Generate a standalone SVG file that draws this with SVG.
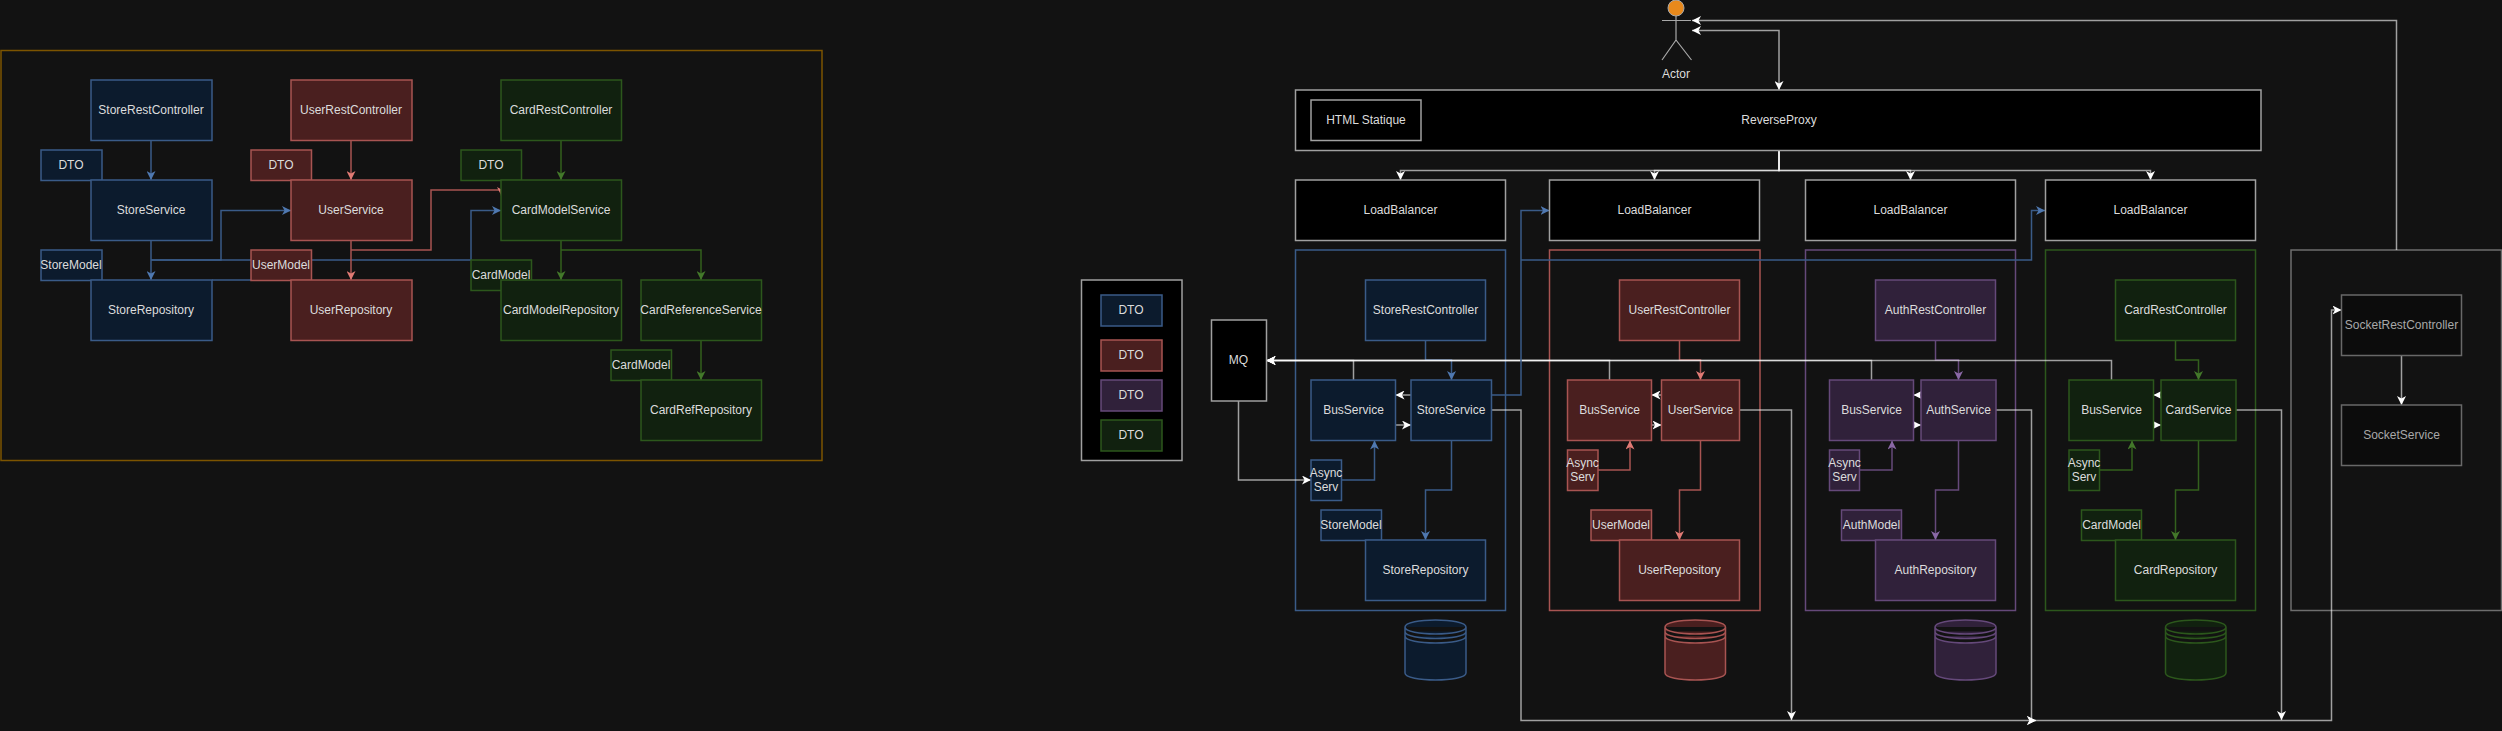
<svg xmlns="http://www.w3.org/2000/svg" width="2502" height="731" viewBox="0 0 2502 731">
<style>
text{font-family:"Liberation Sans",Arial,Helvetica,sans-serif;font-size:12px;fill:#dcdcdc;text-anchor:middle;dominant-baseline:central}
rect{stroke-width:1.5}
.b{fill:#0c1b2d;stroke:#3a5b88}
.r{fill:#4a1f1f;stroke:#a85452}
.g{fill:#11210f;stroke:#2c571c}
.p{fill:#30213a;stroke:#65497a}
.k{fill:#000;stroke:#a0a0a0}
.s{fill:#0c0c0c;stroke:#686868}
.gb{fill:none;stroke:#3a5b88}.gr{fill:none;stroke:#a85452}.gg{fill:none;stroke:#2c571c}.gp{fill:none;stroke:#65497a}.gs{fill:none;stroke:#6e6e6e}
#connectors path{fill:none;stroke-width:1.5}
.cb{stroke:#3a5b88;marker-end:url(#ab)}.cr{stroke:#a85452;marker-end:url(#ar)}.cg{stroke:#33601d;marker-end:url(#ag)}.cp{stroke:#65497a;marker-end:url(#ap)}
.cbn{stroke:#3a5b88}
.cw{stroke:#fff;stroke-opacity:.6;marker-end:url(#aw)}
</style>
<defs>
<marker id="ab" markerUnits="userSpaceOnUse" markerWidth="9" markerHeight="9" refX="9" refY="4.5" orient="auto"><path d="M9,4.5 L0,0 L2.5,4.5 L0,9Z" fill="#4f78b0"/></marker>
<marker id="ar" markerUnits="userSpaceOnUse" markerWidth="9" markerHeight="9" refX="9" refY="4.5" orient="auto"><path d="M9,4.5 L0,0 L2.5,4.5 L0,9Z" fill="#e07a74"/></marker>
<marker id="ag" markerUnits="userSpaceOnUse" markerWidth="9" markerHeight="9" refX="9" refY="4.5" orient="auto"><path d="M9,4.5 L0,0 L2.5,4.5 L0,9Z" fill="#43782a"/></marker>
<marker id="ap" markerUnits="userSpaceOnUse" markerWidth="9" markerHeight="9" refX="9" refY="4.5" orient="auto"><path d="M9,4.5 L0,0 L2.5,4.5 L0,9Z" fill="#8a68a6"/></marker>
<marker id="aw" markerUnits="userSpaceOnUse" markerWidth="9" markerHeight="9" refX="9" refY="4.5" orient="auto"><path d="M9,4.5 L0,0 L2.5,4.5 L0,9Z" fill="#fff"/></marker>
<marker id="aws" markerUnits="userSpaceOnUse" markerWidth="9" markerHeight="9" refX="0" refY="4.5" orient="auto"><path d="M0,4.5 L9,0 L6.5,4.5 L9,9Z" fill="#fff"/></marker>
</defs>
<rect x="0" y="0" width="2502" height="731" fill="#121212" stroke="none"/>

<g id="frames">
<rect id="frame-left" x="1" y="50.5" width="821" height="410" fill="none" stroke="#7c5400" stroke-width="3"/>
<rect id="group-store" class="gb" x="1295.5" y="250" width="210" height="360.5"/>
<rect id="group-user" class="gr" x="1549.5" y="250" width="210.5" height="360.5"/>
<rect id="group-auth" class="gp" x="1805.5" y="250" width="210" height="360.5"/>
<rect id="group-card" class="gg" x="2045.5" y="250" width="210" height="360.5"/>
<rect id="group-socket" class="gs" x="2291" y="250" width="210.5" height="360.5"/>
</g>

<g id="connectors">
<path class="cb" d="M151,140.5V180"/><path class="cb" d="M151,240.5V280"/>
<path class="cb" d="M151,260H221V210.5H291"/><path class="cb" d="M151,260H471V210.5H501"/>
<path class="cbn" d="M212,280H251"/>
<path class="cr" d="M351,140.5V180"/><path class="cr" d="M351,240.5V280"/>
<path class="cr" d="M351,250H431V190H501.5V196"/>
<path class="cg" d="M561,140.5V180"/><path class="cg" d="M561,240.5V280"/>
<path class="cg" d="M561,250H701V280"/><path class="cg" d="M701,340.5V380"/>

<path class="cw" d="M1238.500,401V480H1311"/>
<path class="cb" d="M1425.500,340.500V360H1451.500V380"/>
<path class="cr" d="M1679.500,340.500V360H1700.500V380"/>
<path class="cp" d="M1935.500,340.500V360H1958.500V380"/>
<path class="cg" d="M2175.500,340.500V360H2198.500V380"/>
<path class="cw" d="M1353.500,380V360.500H1266.500"/>
<path class="cw" d="M1609.500,380V360.500H1266.500"/>
<path class="cw" d="M1871.500,380V360.500H1266.500"/>
<path class="cw" d="M2111.500,380V360.500H1266.500"/>

<path class="cw" d="M1411,395H1395.500"/><path class="cw" d="M1395.500,425H1411"/>
<path class="cw" d="M1661.500,395H1651.500"/><path class="cw" d="M1651.500,425H1661.500"/>
<path class="cw" d="M1921,395H1913.500"/><path class="cw" d="M1913.500,425H1921"/>
<path class="cw" d="M2161,395H2153.500"/><path class="cw" d="M2153.500,425H2161"/>

<path class="cb" d="M1341.500,480H1374.500V440.500"/>
<path class="cr" d="M1598,470H1630V440.500"/>
<path class="cp" d="M1859.500,470H1892V440.500"/>
<path class="cg" d="M2099.500,470H2132V440.500"/>
<path class="cb" d="M1451.500,440.500V490H1425.500V540"/>
<path class="cr" d="M1700.500,440.500V490H1679.500V540"/>
<path class="cp" d="M1958.500,440.500V490H1935.500V540"/>
<path class="cg" d="M2198.500,440.500V490H2175.500V540"/>

<path class="cb" d="M1491.500,395H1521V210.500H1549.500"/>
<path class="cb" d="M1521,260H2031.500V210.500H2045"/>

<path class="cw" d="M1491.500,410H1521V720.500H2036"/>
<path class="cw" d="M1739.500,410H1791.500V720"/>
<path class="cw" d="M1996,410H2031.500V720.500H2036"/>
<path class="cw" d="M2236,410H2281.500V720"/>
<path class="cw" d="M2036,720.500H2331.500V310H2341.500"/>

<path class="cw" d="M2401.500,355.500V405"/>
<path class="cw" d="M2396.500,250V20.500H1692"/>
<path class="cw" style="marker-start:url(#aws)" d="M1692,30.500H1779V90"/>
<path class="cw" d="M1779,150.500V170.500H1400.500V180"/>
<path class="cw" d="M1779,150.500V170.500H1654.500V180"/>
<path class="cw" d="M1779,150.500V170.500H1910.500V180"/>
<path class="cw" d="M1779,150.500V170.500H2150.500V180"/>
</g>

<g id="store-rest-l"><rect class="b" x="91" y="80" width="121" height="60.500"/><text x="151" y="110">StoreRestController</text></g>
<g id="store-dto-l"><rect class="b" x="41" y="150" width="61" height="30.500"/><text x="71" y="165">DTO</text></g>
<g id="store-service-l"><rect class="b" x="91" y="180" width="121" height="60.500"/><text x="151" y="210">StoreService</text></g>
<g id="store-model-l"><rect class="b" x="41" y="250" width="61" height="30.500"/><text x="71" y="265">StoreModel</text></g>
<g id="store-repo-l"><rect class="b" x="91" y="280" width="121" height="60.500"/><text x="151" y="310">StoreRepository</text></g>

<g id="user-rest-l"><rect class="r" x="291" y="80" width="121" height="60.500"/><text x="351" y="110">UserRestController</text></g>
<g id="user-dto-l"><rect class="r" x="251" y="150" width="60.500" height="30.500"/><text x="281" y="165">DTO</text></g>
<g id="user-service-l"><rect class="r" x="291" y="180" width="121" height="60.500"/><text x="351" y="210">UserService</text></g>
<g id="user-model-l"><rect class="r" x="251" y="250" width="60.500" height="30.500"/><text x="281" y="265">UserModel</text></g>
<g id="user-repo-l"><rect class="r" x="291" y="280" width="121" height="60.500"/><text x="351" y="310">UserRepository</text></g>

<g id="card-rest-l"><rect class="g" x="501" y="80" width="120.500" height="60.500"/><text x="561" y="110">CardRestController</text></g>
<g id="card-dto-l"><rect class="g" x="461" y="150" width="60.500" height="30.500"/><text x="491" y="165">DTO</text></g>
<g id="card-model-service-l"><rect class="g" x="501" y="180" width="120.500" height="60.500"/><text x="561" y="210">CardModelService</text></g>
<g id="card-model-l"><rect class="g" x="471" y="260" width="60.500" height="30.500"/><text x="501" y="275">CardModel</text></g>
<g id="card-model-repo-l"><rect class="g" x="501" y="280" width="120.500" height="60.500"/><text x="561" y="310">CardModelRepository</text></g>
<g id="card-ref-service-l"><rect class="g" x="641" y="280" width="120.500" height="60.500"/><text x="701" y="310">CardReferenceService</text></g>
<g id="card-model2-l"><rect class="g" x="611" y="350" width="60.500" height="30.500"/><text x="641" y="365">CardModel</text></g>
<g id="card-ref-repo-l"><rect class="g" x="641" y="380" width="120.500" height="60.500"/><text x="701" y="410">CardRefRepository</text></g>

<g id="legend"><rect class="k" x="1081.500" y="280" width="100.500" height="180.500"/>
<rect class="b" x="1101" y="295" width="61" height="31"/><text x="1131" y="310">DTO</text>
<rect class="r" x="1101" y="340" width="61" height="31"/><text x="1131" y="355">DTO</text>
<rect class="p" x="1101" y="380" width="61" height="31"/><text x="1131" y="395">DTO</text>
<rect class="g" x="1101" y="420" width="61" height="31"/><text x="1131" y="435">DTO</text></g>
<g id="mq"><rect class="k" x="1211.500" y="320" width="55" height="81"/><text x="1238.500" y="360">MQ</text></g>

<g id="actor"><circle cx="1676" cy="8" r="8" fill="#e8891c" stroke="#a8a8a8" stroke-width="1"/><path d="M1676,16V40M1662,20.500H1691M1676,40L1662,60M1676,40L1691.500,60" fill="none" stroke="#a8a8a8" stroke-width="1.2"/><text x="1676" y="74">Actor</text></g>
<g id="reverse-proxy"><rect class="k" x="1295.500" y="90" width="965.500" height="60.500"/><text x="1779" y="120">ReverseProxy</text></g>
<g id="html-statique"><rect class="k" x="1311" y="100" width="110" height="40.500"/><text x="1366" y="120">HTML Statique</text></g>
<g id="lb-store"><rect class="k" x="1295.500" y="180" width="210" height="60.500"/><text x="1400.500" y="210">LoadBalancer</text></g>
<g id="lb-user"><rect class="k" x="1549.500" y="180" width="210" height="60.500"/><text x="1654.500" y="210">LoadBalancer</text></g>
<g id="lb-auth"><rect class="k" x="1805.500" y="180" width="210" height="60.500"/><text x="1910.500" y="210">LoadBalancer</text></g>
<g id="lb-card"><rect class="k" x="2045.500" y="180" width="210" height="60.500"/><text x="2150.500" y="210">LoadBalancer</text></g>

<g id="store-rest"><rect class="b" x="1365.500" y="280" width="120" height="60.500"/><text x="1425.500" y="310">StoreRestController</text></g>
<g id="store-bus"><rect class="b" x="1311" y="380" width="84.500" height="60.500"/><text x="1353.500" y="410">BusService</text></g>
<g id="store-service"><rect class="b" x="1411" y="380" width="80.500" height="60.500"/><text x="1451" y="410">StoreService</text></g>
<g id="store-async"><rect class="b" x="1311" y="460" width="30.500" height="40.500"/><text x="1326" y="465"><tspan x="1326" y="465" dy="8">Async</tspan><tspan x="1326" dy="14">Serv</tspan></text></g>
<g id="store-model"><rect class="b" x="1321" y="510" width="60.500" height="30.500"/><text x="1351" y="525">StoreModel</text></g>
<g id="store-repo"><rect class="b" x="1365.500" y="540" width="120" height="60.500"/><text x="1425.500" y="570">StoreRepository</text></g>
<g id="store-db"><path d="M1405,627c0-9.300 61-9.300 61,0v46c0,9.300-61,9.300-61,0ZM1405,627c0,9.300 61,9.300 61,0M1405,631.500c0,9.300 61,9.300 61,0M1405,636c0,9.300 61,9.300 61,0" class="b" stroke-width="1.500"/></g>

<g id="user-rest"><rect class="r" x="1619.500" y="280" width="120" height="60.500"/><text x="1679.500" y="310">UserRestController</text></g>
<g id="user-bus"><rect class="r" x="1567.500" y="380" width="84" height="60.500"/><text x="1609.500" y="410">BusService</text></g>
<g id="user-service"><rect class="r" x="1661.500" y="380" width="78" height="60.500"/><text x="1700.500" y="410">UserService</text></g>
<g id="user-async"><rect class="r" x="1567.500" y="450" width="30.500" height="40.500"/><text x="1582.500" y="455"><tspan x="1582.500" y="455" dy="8">Async</tspan><tspan x="1582.500" dy="14">Serv</tspan></text></g>
<g id="user-model"><rect class="r" x="1591" y="510" width="60.500" height="30.500"/><text x="1621" y="525">UserModel</text></g>
<g id="user-repo"><rect class="r" x="1619.500" y="540" width="120" height="60.500"/><text x="1679.500" y="570">UserRepository</text></g>
<g id="user-db"><path d="M1665,627c0-9.300 60.500-9.300 60.500,0v46c0,9.300-60.500,9.300-60.500,0ZM1665,627c0,9.300 60.500,9.300 60.500,0M1665,631.500c0,9.300 60.500,9.300 60.500,0M1665,636c0,9.300 60.500,9.300 60.500,0" class="r" stroke-width="1.500"/></g>

<g id="auth-rest"><rect class="p" x="1875.500" y="280" width="120" height="60.500"/><text x="1935.500" y="310">AuthRestController</text></g>
<g id="auth-bus"><rect class="p" x="1829.500" y="380" width="84" height="60.500"/><text x="1871.500" y="410">BusService</text></g>
<g id="auth-service"><rect class="p" x="1921" y="380" width="75" height="60.500"/><text x="1958.500" y="410">AuthService</text></g>
<g id="auth-async"><rect class="p" x="1829.500" y="450" width="30" height="40.500"/><text x="1844.500" y="455"><tspan x="1844.500" y="455" dy="8">Async</tspan><tspan x="1844.500" dy="14">Serv</tspan></text></g>
<g id="auth-model"><rect class="p" x="1841.500" y="510" width="60" height="30.500"/><text x="1871.500" y="525">AuthModel</text></g>
<g id="auth-repo"><rect class="p" x="1875.500" y="540" width="120" height="60.500"/><text x="1935.500" y="570">AuthRepository</text></g>
<g id="auth-db"><path d="M1935,627c0-9.300 61-9.300 61,0v46c0,9.300-61,9.300-61,0ZM1935,627c0,9.300 61,9.300 61,0M1935,631.500c0,9.300 61,9.300 61,0M1935,636c0,9.300 61,9.300 61,0" class="p" stroke-width="1.500"/></g>

<g id="card-rest"><rect class="g" x="2115.500" y="280" width="120" height="60.500"/><text x="2175.500" y="310">CardRestController</text></g>
<g id="card-bus"><rect class="g" x="2069" y="380" width="84.500" height="60.500"/><text x="2111.500" y="410">BusService</text></g>
<g id="card-service"><rect class="g" x="2161" y="380" width="75" height="60.500"/><text x="2198.500" y="410">CardService</text></g>
<g id="card-async"><rect class="g" x="2069" y="450" width="30.500" height="40.500"/><text x="2084" y="455"><tspan x="2084" y="455" dy="8">Async</tspan><tspan x="2084" dy="14">Serv</tspan></text></g>
<g id="card-model"><rect class="g" x="2081.500" y="510" width="60" height="30.500"/><text x="2111.500" y="525">CardModel</text></g>
<g id="card-repo"><rect class="g" x="2115.500" y="540" width="120" height="60.500"/><text x="2175.500" y="570">CardRepository</text></g>
<g id="card-db"><path d="M2165.500,627c0-9.300 60.500-9.300 60.500,0v46c0,9.300-60.500,9.300-60.500,0ZM2165.500,627c0,9.300 60.500,9.300 60.500,0M2165.500,631.500c0,9.300 60.500,9.300 60.500,0M2165.500,636c0,9.300 60.500,9.300 60.500,0" class="g" stroke-width="1.500"/></g>

<g id="socket-rest"><rect class="s" x="2341.500" y="295" width="120" height="60.500"/><text x="2401.500" y="325" style="fill:#a8a8a8">SocketRestController</text></g>
<g id="socket-service"><rect class="s" x="2341.500" y="405" width="120" height="60.500"/><text x="2401.500" y="435" style="fill:#a8a8a8">SocketService</text></g>
</svg>
